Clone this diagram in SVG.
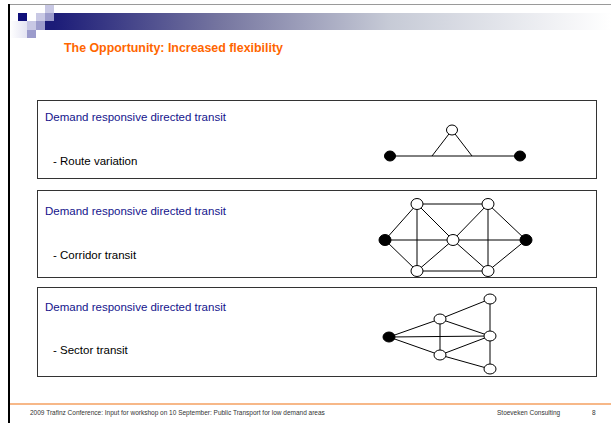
<svg xmlns="http://www.w3.org/2000/svg" width="611" height="423" viewBox="0 0 611 423">
<defs>
<linearGradient id="bar" x1="0" y1="0" x2="1" y2="0">
<stop offset="0" stop-color="#1c1c78"/>
<stop offset="0.3" stop-color="#7676a0"/>
<stop offset="0.6" stop-color="#c6cad6"/>
<stop offset="1" stop-color="#ffffff"/>
</linearGradient>
<linearGradient id="faint" x1="0" y1="0" x2="1" y2="0">
<stop offset="0" stop-color="#ffffff"/>
<stop offset="1" stop-color="#e4e4f2"/>
</linearGradient>
</defs>
<style>
.box{fill:#fff;stroke:#333;stroke-width:1}
.head{font-family:"Liberation Sans",Arial,sans-serif;font-size:11.5px;fill:#14148c}
.sub{font-family:"Liberation Sans",Arial,sans-serif;font-size:11.5px;fill:#000}
.title{font-family:"Liberation Sans",Arial,sans-serif;font-size:12.4px;font-weight:bold;fill:#ff6600}
.foot{font-family:"Liberation Sans",Arial,sans-serif;font-size:6.5px;fill:#333}
.edge{stroke:#000;stroke-width:1;fill:none}
.open{fill:#fff;stroke:#000;stroke-width:1}
.fill{fill:#000;stroke:#000;stroke-width:1}
</style>
<rect x="0" y="0" width="611" height="423" fill="#fff"/>
<!-- frame -->
<line x1="8" y1="4.5" x2="611" y2="4.5" stroke="#9a9a9a" stroke-width="1.2"/>
<line x1="9" y1="4" x2="9" y2="423" stroke="#000" stroke-width="2"/>
<!-- header decoration -->
<rect x="10" y="21" width="17" height="17" fill="url(#faint)"/>
<rect x="54" y="13" width="557" height="17" fill="url(#bar)"/>
<rect x="45" y="21" width="9" height="9" fill="#1c1c78"/>
<rect x="18" y="13" width="9" height="8" fill="#10107a"/>
<rect x="36" y="13" width="9" height="8" fill="#c8c8e4"/>
<rect x="27" y="21" width="9" height="9" fill="#c8c8e4"/>
<rect x="45" y="5" width="9" height="8" fill="#c8c8e4"/>
<rect x="45" y="13" width="9" height="8" fill="#9c9ccc"/>
<rect x="36" y="21" width="9" height="9" fill="#9c9ccc"/>
<rect x="27" y="30" width="9" height="8" fill="#9c9ccc"/>
<text class="title" x="64" y="52">The Opportunity: Increased flexibility</text>
<!-- boxes -->
<g id="box-route">
<rect class="box" x="37.5" y="100.5" width="559" height="78"/>
<text class="head" x="45" y="121">Demand responsive directed transit</text>
<text class="sub" x="53" y="165">- Route variation</text>
</g>
<g id="box-corridor">
<rect class="box" x="37.5" y="190.5" width="559" height="87"/>
<text class="head" x="45" y="215">Demand responsive directed transit</text>
<text class="sub" x="53" y="259">- Corridor transit</text>
</g>
<g id="box-sector">
<rect class="box" x="37.5" y="287.5" width="559" height="89"/>
<text class="head" x="45" y="311">Demand responsive directed transit</text>
<text class="sub" x="53" y="354">- Sector transit</text>
</g>
<!-- connectors -->
<g id="connectors" class="edge">
<line x1="390" y1="156" x2="520" y2="156"/>
<line x1="432" y1="156" x2="452" y2="130"/>
<line x1="472" y1="156" x2="452" y2="130"/>
<line x1="417" y1="204" x2="488" y2="204"/>
<line x1="417" y1="271" x2="488" y2="271"/>
<line x1="385" y1="240" x2="526" y2="240"/>
<line x1="385" y1="240" x2="417" y2="204"/>
<line x1="385" y1="240" x2="417" y2="271"/>
<line x1="526" y1="240" x2="488" y2="204"/>
<line x1="526" y1="240" x2="488" y2="271"/>
<line x1="417" y1="204" x2="417" y2="271"/>
<line x1="488" y1="204" x2="488" y2="271"/>
<line x1="417" y1="204" x2="453" y2="240"/>
<line x1="417" y1="271" x2="453" y2="240"/>
<line x1="488" y1="204" x2="453" y2="240"/>
<line x1="488" y1="271" x2="453" y2="240"/>
<line x1="389" y1="337" x2="440" y2="319"/>
<line x1="440" y1="319" x2="490" y2="299"/>
<line x1="389" y1="337" x2="440" y2="355"/>
<line x1="440" y1="355" x2="490" y2="369"/>
<line x1="389" y1="337" x2="490" y2="336"/>
<line x1="440" y1="319" x2="440" y2="355"/>
<line x1="490" y1="299" x2="490" y2="369"/>
<line x1="440" y1="319" x2="490" y2="336"/>
<line x1="440" y1="355" x2="490" y2="336"/>
</g>
<!-- nodes: route variation -->
<g id="rv-left"><ellipse class="fill" cx="390" cy="156" rx="5.5" ry="5"/></g>
<g id="rv-right"><ellipse class="fill" cx="520" cy="156" rx="5.5" ry="5"/></g>
<g id="rv-top"><ellipse class="open" cx="452" cy="130" rx="5.5" ry="5"/></g>
<!-- nodes: corridor -->
<g id="ct-left"><ellipse class="fill" cx="385" cy="240" rx="6" ry="5.5"/></g>
<g id="ct-right"><ellipse class="fill" cx="526" cy="240" rx="6" ry="5.5"/></g>
<g id="ct-tl"><ellipse class="open" cx="417" cy="204" rx="6" ry="5.5"/></g>
<g id="ct-tr"><ellipse class="open" cx="488" cy="204" rx="6" ry="5.5"/></g>
<g id="ct-center"><ellipse class="open" cx="453" cy="240" rx="6" ry="5.5"/></g>
<g id="ct-bl"><ellipse class="open" cx="417" cy="271" rx="6" ry="5.5"/></g>
<g id="ct-br"><ellipse class="open" cx="488" cy="271" rx="6" ry="5.5"/></g>
<!-- nodes: sector -->
<g id="st-left"><ellipse class="fill" cx="389" cy="337" rx="6" ry="5"/></g>
<g id="st-ui"><ellipse class="open" cx="440" cy="319" rx="6" ry="5"/></g>
<g id="st-li"><ellipse class="open" cx="440" cy="355" rx="6" ry="5"/></g>
<g id="st-tr"><ellipse class="open" cx="490" cy="299" rx="6" ry="5"/></g>
<g id="st-mr"><ellipse class="open" cx="490" cy="336" rx="6" ry="5"/></g>
<g id="st-br"><ellipse class="open" cx="490" cy="369" rx="6" ry="5"/></g>
<!-- footer -->
<line x1="10" y1="404" x2="611" y2="404" stroke="#f5a060" stroke-width="1.5"/>
<text class="foot" x="30" y="415">2009 Trafinz Conference: Input for workshop on 10 September: Public Transport for low demand areas</text>
<text class="foot" x="497" y="415">Stoeveken Consulting</text>
<text class="foot" x="592" y="415">8</text>
</svg>
